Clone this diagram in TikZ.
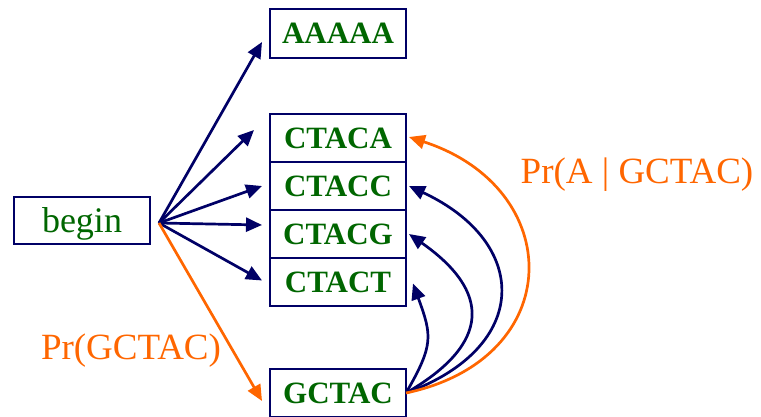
\documentclass[tikz,border=0pt]{standalone}
\usepackage{fontspec}
\setmainfont{Liberation Serif}
\usetikzlibrary{positioning}
\usetikzlibrary{arrows.meta}
\definecolor{navy}{RGB}{0,0,102}
\definecolor{dkgreen}{RGB}{0,102,0}
\definecolor{prorange}{RGB}{255,102,0}

\begin{document}
\begin{tikzpicture}[inner sep=0pt,
  seq/.style={draw=navy, line width=1pt, outer sep=0pt, minimum width=68pt, minimum height=24pt,
    text=dkgreen, font=\fontsize{15.5}{18}\selectfont\bfseries},
  startbox/.style={draw=navy, line width=1pt, minimum width=68pt, minimum height=23.5pt,
    text depth=0pt, text=dkgreen, font=\fontsize{18}{21}\selectfont},
  prlabel/.style={text=prorange, font=\fontsize{18.5}{22}\selectfont},
  fanarrow/.style={draw=navy, line width=1.35pt, -{Triangle[length=8pt,width=7pt]}},
  backarrow/.style={fanarrow}]
\def\u{0.5pt}
\useasboundingbox (0,0) rectangle (761*\u, -417*\u);

\node[seq, minimum height=24.5pt] (aaaaa) at (338*\u, -33.5*\u) {AAAAA};
\node[seq] (ctaca) at (338*\u, -138*\u) {CTACA};
\node[seq, below=0pt of ctaca] (ctacc) {CTACC};
\node[seq, below=0pt of ctacc] (ctacg) {CTACG};
\node[seq, below=0pt of ctacg] (ctact) {CTACT};
\node[seq] (gctac) at (338*\u, -393*\u) {GCTAC};
\node[startbox] (begin) at (82*\u, -220.5*\u) {begin};
\coordinate (fan) at ([xshift=8*\u, yshift=-2.5*\u]begin.east);

\node[prlabel] (prg) at (131*\u, -351*\u) {Pr(GCTAC)};
\node[prlabel] (pra) at (637*\u, -175*\u) {Pr(A | GCTAC)};

\draw[fanarrow] (fan) -- ([xshift=-8*\u, yshift=-8.5*\u]aaaaa.west);
\draw[fanarrow] (fan) -- ([xshift=-16*\u, yshift=8*\u]ctaca.west);
\draw[fanarrow] (fan) -- ([xshift=-8*\u]ctacc.west);
\draw[fanarrow] (fan) -- ([xshift=-8*\u, yshift=9*\u]ctacg.west);
\draw[fanarrow] (fan) -- ([xshift=-8*\u, yshift=1.5*\u]ctact.west);
\draw[fanarrow, draw=prorange, fill=prorange] (fan) -- ([xshift=-8*\u, yshift=-8*\u]gctac.west);

\draw[backarrow] (gctac.east) to[out=60, in=-70, looseness=1.3] ([xshift=7*\u, yshift=-1.5*\u]ctact.east);
\draw[backarrow] (gctac.east) to[out=30, in=-35, looseness=1.6] ([xshift=3*\u]ctacg.east);
\draw[backarrow] (gctac.east) to[out=20, in=-25, looseness=1.65] ([xshift=3*\u]ctacc.east);
\draw[backarrow, draw=prorange] (gctac.east) to[out=12, in=-18, looseness=1.65] ([xshift=3*\u, yshift=1*\u]ctaca.east);
\end{tikzpicture}
\end{document}
